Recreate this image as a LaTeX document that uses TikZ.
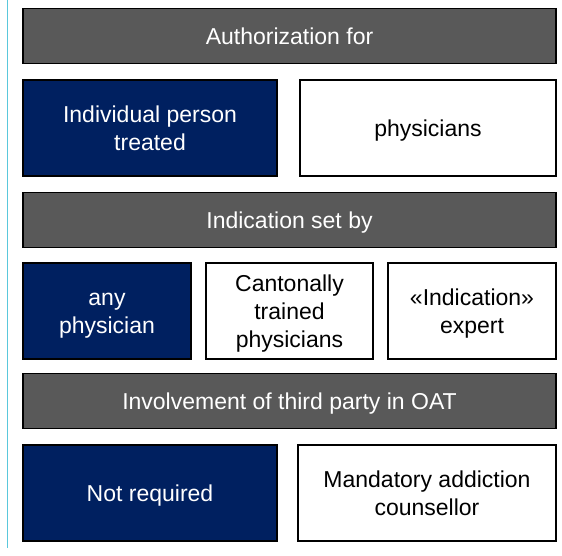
\documentclass[tikz,border=0pt]{standalone}
\usepackage{fontspec}
\setmainfont{Liberation Sans}
\usepackage{tikz}
\definecolor{headgray}{RGB}{89,89,89}
\definecolor{oatnavy}{RGB}{0,32,96}
\definecolor{sideteal}{RGB}{90,200,220}

\begin{document}
\begin{tikzpicture}[x=1pt,y=-1pt,line width=1.6pt,
	box/.style={rectangle,draw=black,align=center,inner sep=0pt,minimum height=96pt,font=\fontsize{23}{28}\selectfont},
	one line/.style={text height=16.5pt,text depth=0pt},
	two lines/.style={text height=44.5pt,text depth=0pt},
	three lines/.style={text height=72.5pt,text depth=0pt},
	head node/.style={box,one line,fill=headgray,text=white,minimum width=533pt,minimum height=55pt},
	blue node/.style={box,fill=oatnavy,text=white},
	white node/.style={box,fill=white,text=black}]

			\useasboundingbox (0,0) rectangle (562,556);
			\draw[sideteal,line width=1pt] (7,0) -- (7,548);

			\node[head node] (h1) at (289.5,36) {Authorization for};
			\node[blue node,two lines,minimum width=254pt] (a1) at (150,128) {Individual person\\treated};
			\node[white node,one line,minimum width=256pt] (a2) at (428,128) {physicians};

			\node[head node] (h2) at (289.5,220) {Indication set by};
			\node[blue node,two lines,minimum width=168pt] (b1) at (107,311) {any\\physician};
			\node[white node,three lines,minimum width=167pt] (b2) at (289.5,311) {Cantonally\\trained\\physicians};
			\node[white node,two lines,minimum width=168pt] (b3) at (472,311) {«Indication»\\expert};

			\node[head node] (h3) at (289.5,401) {Involvement of third party in OAT};
			\node[blue node,one line,minimum width=254pt] (c1) at (150,493) {Not required};
			\node[white node,two lines,minimum width=258pt] (c2) at (427,493) {Mandatory addiction\\counsellor};
		\end{tikzpicture}
\end{document}
